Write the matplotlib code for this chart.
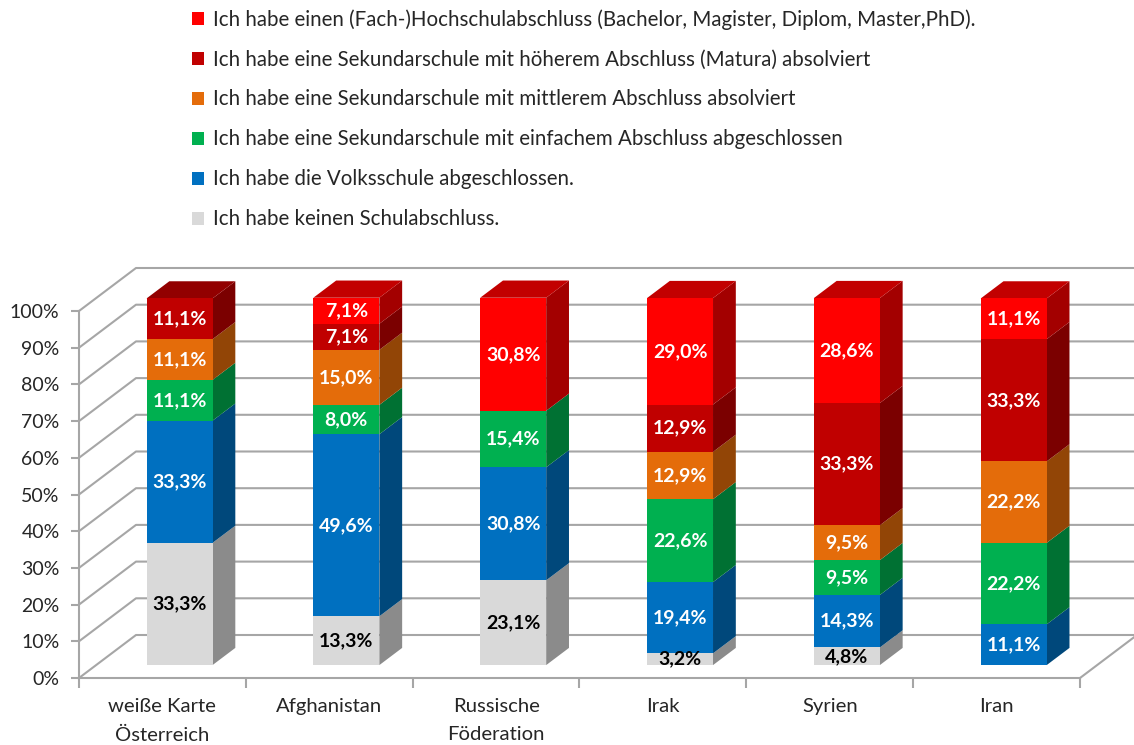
import matplotlib
matplotlib.use("Agg")
import matplotlib.pyplot as plt
from matplotlib.patches import Polygon, Patch
import numpy as np

categories = ["weiße Karte\nÖsterreich", "Afghanistan", "Russische\nFöderation", "Irak", "Syrien", "Iran"]
series_names = [
    "Ich habe keinen Schulabschluss.",
    "Ich habe die Volksschule abgeschlossen.",
    "Ich habe eine Sekundarschule mit einfachem Abschluss abgeschlossen",
    "Ich habe eine Sekundarschule mit mittlerem Abschluss absolviert",
    "Ich habe eine Sekundarschule mit höherem Abschluss (Matura) absolviert",
    "Ich habe einen (Fach-)Hochschulabschluss (Bachelor, Magister, Diplom, Master,PhD).",
]
kein = [33.3, 13.3, 23.1, 3.2, 4.8, 0.0]
volks = [33.3, 49.6, 30.8, 19.4, 14.3, 11.1]
einfach = [11.1, 8.0, 15.4, 22.6, 9.5, 22.2]
mittel = [11.1, 15.0, 0.0, 12.9, 9.5, 22.2]
matura = [11.1, 7.1, 0.0, 12.9, 33.3, 33.3]
hochschule = [0.0, 7.1, 30.8, 29.0, 28.6, 11.1]
series = [kein, volks, einfach, mittel, matura, hochschule]
colors = ["#D9D9D9", "#0070C0", "#00B050", "#E46C0A", "#C00000", "#FF0000"]
label_colors = ["black", "white", "white", "white", "white", "white"]
yticks = list(range(0, 101, 10))
ytick_labels = [f"{v}%" for v in yticks]

FONT = ["Lato", "DejaVu Sans"]
plt.rcParams["font.family"] = FONT

W, H = 1134, 745
fig = plt.figure(figsize=(W / 100, H / 100), dpi=100)
# front plane: x 80..1080 px, y 0% at 678 px, 100% at 311 px
ax = fig.add_axes([79 / W, (H - 678) / H, 1001 / W, 367 / H])
n = len(categories)
ax.set_xlim(-0.5, n - 0.5)
ax.set_ylim(0, 100)

# depth vector (full wall depth) in data units
px_x = 1001 / n          # px per category
px_y = 367 / 100         # px per percent
Dx, Dy = 57 / px_x, 43 / px_y
# bar placement in depth
f_front, f_back = 0.30, 0.70
bw = 66 / px_x

grid_c = "#A6A6A6"
for yv in yticks:
    ax.plot([-0.5, -0.5 + Dx, n - 0.5 + Dx], [yv, yv + Dy, yv + Dy],
            color=grid_c, lw=1.5, clip_on=False, zorder=0)
ax.plot([n - 0.5, n - 0.5 + Dx], [0, Dy], color=grid_c, lw=1.5, clip_on=False, zorder=0)


def shade(c, k):
    r, g, b = matplotlib.colors.to_rgb(c)
    return (r * k, g * k, b * k)


x = np.arange(n)
ox, oy = f_front * Dx, f_front * Dy
bdx, bdy = (f_back - f_front) * Dx, (f_back - f_front) * Dy
bottoms = np.zeros(n)
tops = np.sum(np.array(series), axis=0)
handles = []
for s, vals in enumerate(series):
    vals = np.array(vals)
    cont = ax.bar(x + ox, vals, width=bw, bottom=bottoms + oy, color=colors[s],
                  edgecolor="none", zorder=3, clip_on=False)
    handles.append(Patch(facecolor=colors[s], edgecolor="none"))
    for i in range(n):
        if vals[i] <= 0:
            continue
        x1 = x[i] + ox + bw / 2
        y0 = bottoms[i] + oy
        y1 = y0 + vals[i]
        side = Polygon([(x1, y0), (x1 + bdx, y0 + bdy), (x1 + bdx, y1 + bdy), (x1, y1)],
                       closed=True, facecolor=shade(colors[s], 0.64), edgecolor="none",
                       zorder=2, clip_on=False)
        ax.add_patch(side)
        if abs(bottoms[i] + vals[i] - tops[i]) < 1e-6:
            x0 = x[i] + ox - bw / 2
            top = Polygon([(x0, y1), (x1, y1), (x1 + bdx, y1 + bdy), (x0 + bdx, y1 + bdy)],
                          closed=True, facecolor=shade(colors[s], 0.76), edgecolor="none",
                          zorder=2, clip_on=False)
            ax.add_patch(top)
        ax.text(x[i] + ox, y0 + vals[i] / 2, f"{vals[i]:.1f}%".replace(".", ","),
                ha="center", va="center", fontsize=14, fontweight="bold",
                color=label_colors[s], zorder=5, clip_on=False)
    bottoms = bottoms + vals

for sp in ["top", "right"]:
    ax.spines[sp].set_visible(False)
for sp in ["left", "bottom"]:
    ax.spines[sp].set_color(grid_c)
    ax.spines[sp].set_linewidth(1.5)

ax.set_yticks(yticks)
ax.set_yticklabels(ytick_labels)
ax.tick_params(axis="y", length=6, width=1.5, color=grid_c, labelsize=14,
               labelcolor="#262626", pad=8)
ax.set_xticks(x)
ax.set_xticklabels(categories, linespacing=1.8)
ax.set_xticks(np.arange(n + 1) - 0.5, minor=True)
ax.tick_params(axis="x", which="major", length=0, labelsize=14.6, labelcolor="#262626", pad=14.5)
ax.tick_params(axis="x", which="minor", length=7, width=1.5, color=grid_c)
ax.set_facecolor("none")

leg = fig.legend(handles[::-1], series_names[::-1], loc="upper left",
                 bbox_to_anchor=(192 / W, 1 - 9 / H), frameon=False, fontsize=14.8,
                 handlelength=0.6, handleheight=0.6, handletextpad=0.4,
                 labelspacing=0.97, borderaxespad=0, borderpad=0)
for t in leg.get_texts():
    t.set_color("#262626")

fig.savefig("out.png", dpi=100)
